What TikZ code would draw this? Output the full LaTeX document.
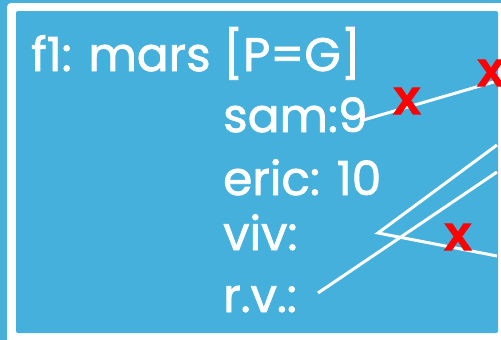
\documentclass[tikz,border=0pt]{standalone}
\usepackage{fontspec}
\setmainfont{Poppins}[FakeBold=1.6]
\newfontfamily\xfont{Liberation Sans}[FakeBold=1.5]
\definecolor{bgblue}{RGB}{69,176,220}
\definecolor{xred}{RGB}{255,0,0}
\begin{document}
\begin{tikzpicture}[x=1pt,y=-1pt,
  lbl/.style={anchor=base west,inner sep=0pt,text=white,font=\fontsize{47}{47}\selectfont},
  xmark/.style={anchor=center,inner sep=0pt,text=xred,font=\xfont\bfseries\fontsize{50}{50}\selectfont},
  link/.style={white,line width=3pt}]
\useasboundingbox (0,0) rectangle (501,340);
\fill[bgblue] (0,0) rectangle (501,340);
\fill[white,rounded corners=4pt] (7,3) rectangle (520,360);
\fill[bgblue,rounded corners=2pt] (16,11) rectangle (498,333);
\node[lbl] (title) at (31,71) {f1: mars [P=G]};
\node[lbl] (sam) at (223,132) {sam:9};
\node[lbl] (eric) at (223,195) {eric: 10};
\node[lbl] (viv) at (223,250) {viv:};
\node[lbl] (rv) at (223,312) {r.v.:};
\coordinate (s0) at (360,121);
\coordinate (s1) at (497,81);
\coordinate (v0) at (378,233);
\coordinate (v1) at (497,145);
\coordinate (v2) at (497,256);
\coordinate (r0) at (318,293);
\coordinate (r1) at (497,172);
\draw[link] (s0) -- (s1);
\draw[link] (v1) -- (v0) -- (v2);
\draw[link] (r0) -- (r1);
\node[xmark] (x1) at (407,101) {x};
\node[xmark] (x2) at (491,73) {x};
\node[xmark] (x3) at (458,237) {x};
\end{tikzpicture}
\end{document}
